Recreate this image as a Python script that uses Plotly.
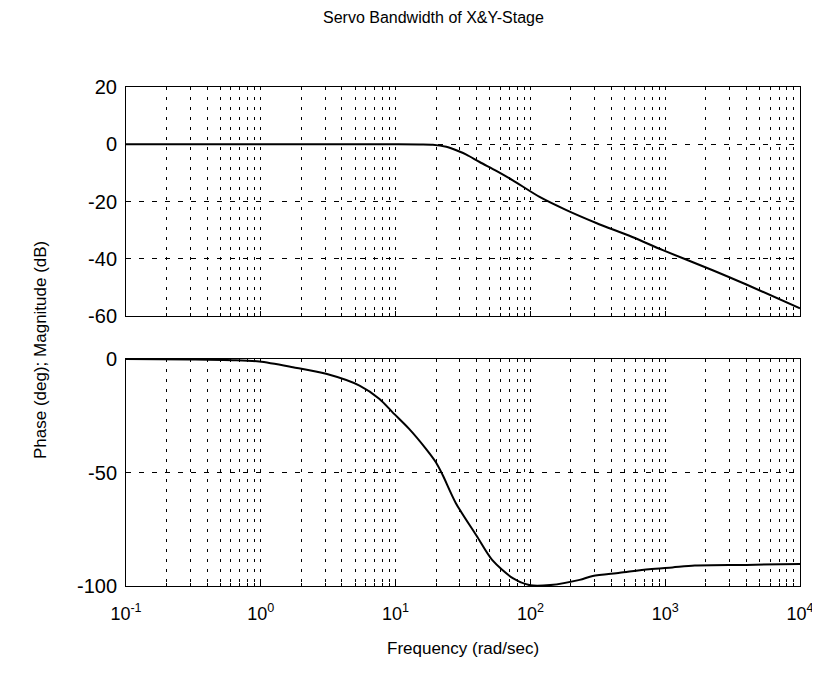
import plotly.graph_objects as go

# ---- data ----
mag_freq = [0.1, 1, 10, 15, 18.9, 23.8, 28.2, 33.5, 42, 55.9, 74, 117, 185, 308, 570, 960, 2250, 4000, 10000]
mag_db = [0, 0, 0, -0.05, -0.15, -0.9, -2.1, -3.6, -6.2, -9.3, -12.6, -18.4, -23, -27.5, -32.4, -37, -44, -49, -57.3]

ph_freq = [0.1, 0.3, 0.62, 0.975, 1.73, 3.05, 5.4, 7.6, 9.5, 12.6, 16.8, 19.9, 22.3, 28, 40, 52, 74, 100, 140,
           232, 290, 460, 760, 1130, 1660, 4000, 10000]
ph_deg = [0, -0.2, -0.5, -1.1, -3.6, -6.5, -11.7, -17.6, -23.5, -30.8, -39.6, -45.5, -51, -63.5, -78, -88.5, -96.5,
          -99.7, -99.6, -97.3, -95.6, -94.2, -92.6, -91.8, -91, -90.7, -90.3]

x_tickvals = [0.1, 1, 10, 100, 1000, 10000]
x_ticktext = ["10<sup>-1</sup>", "10<sup>0</sup>", "10<sup>1</sup>", "10<sup>2</sup>", "10<sup>3</sup>", "10<sup>4</sup>"]
mag_ticks = [-60, -40, -20, 0, 20]
mag_ticktext = ["-60", "-40", "-20", "0", "20"]
ph_ticks = [-100, -50, 0]
ph_ticktext = ["-100", "-50", "0"]

title_text = "Servo Bandwidth of X&Y-Stage"
xlabel_text = "Frequency (rad/sec)"
ylabel_text = "Phase (deg); Magnitude (dB)"

minor_vals = [m * 10 ** e for e in range(-1, 4) for m in range(2, 10)]

FONT = "Liberation Sans, Arial, sans-serif"

fig = go.Figure()
fig.add_trace(go.Scatter(x=mag_freq, y=mag_db, mode="lines",
                         line=dict(color="black", width=2, shape="spline", smoothing=0.8),
                         xaxis="x", yaxis="y", showlegend=False, hoverinfo="skip"))
fig.add_trace(go.Scatter(x=ph_freq, y=ph_deg, mode="lines",
                         line=dict(color="black", width=2, shape="spline", smoothing=0.8),
                         xaxis="x2", yaxis="y2", showlegend=False, hoverinfo="skip"))

# page body has an 8px offset, so figure pixel = reference pixel - 8
OFF = 8
W, HH = 820 - OFF, 675 - OFF
L, R, T, B = 126 - OFF, 800 - OFF, 87 - OFF, 586 - OFF
H = B - T
top_lo = (586 - 316) / H
bot_hi = (586 - 359) / H


def xax(show_labels, anchor):
    d = dict(type="log", range=[-1, 4], anchor=anchor, domain=[0, 1], automargin=False,
             tickmode="array", tickvals=x_tickvals,
             showticklabels=show_labels, ticks="inside", ticklen=5, tickcolor="black",
             showgrid=True, gridcolor="black", gridwidth=1, griddash="3px,7px",
             minor=dict(tickmode="array", tickvals=minor_vals, showgrid=True, gridcolor="black", gridwidth=1,
                        griddash="3px,7px", ticks="inside", ticklen=3, tickcolor="black"),
             showline=True, linecolor="black", linewidth=1, mirror=True, zeroline=False,
             tickfont=dict(family=FONT, size=18, color="black"), ticklabelstandoff=11)
    if show_labels:
        d["ticktext"] = x_ticktext
    return d


def yax(rng, ticks, ticktext, dom, anchor):
    return dict(range=rng, domain=dom, anchor=anchor, automargin=False, tickmode="array",
                tickvals=ticks, ticktext=ticktext,
                ticks="inside", ticklen=5, tickcolor="black",
                showgrid=True, gridcolor="black", gridwidth=1, griddash="5px,8px",
                showline=True, linecolor="black", linewidth=1, mirror=True, zeroline=False,
                tickfont=dict(family=FONT, size=20, color="black"), ticklabelstandoff=4)


fig.update_layout(
    width=W, height=HH,
    margin=dict(l=L, r=W - R, t=T, b=HH - B, autoexpand=False),
    paper_bgcolor="white", plot_bgcolor="white",
    xaxis=xax(False, "y"),
    yaxis=yax([-60, 20], mag_ticks, mag_ticktext, [top_lo, 1], "x"),
    xaxis2=xax(True, "y2"),
    yaxis2=yax([-100, 0], ph_ticks, ph_ticktext, [0, bot_hi], "x2"),
    font=dict(family=FONT, color="black"),
    annotations=[
        dict(text=title_text, xref="paper", yref="paper", x=(433 - 126) / (R - L), y=(586 - 18) / H,
             showarrow=False, xanchor="center", yanchor="middle",
             font=dict(family=FONT, size=16, color="black")),
        dict(text=xlabel_text, xref="paper", yref="paper", x=(463 - 126) / (R - L), y=(586 - 648) / H,
             showarrow=False, xanchor="center", yanchor="middle",
             font=dict(family=FONT, size=17, color="black")),
        dict(text=ylabel_text, xref="paper", yref="paper", x=(40 - 126) / (R - L), y=(586 - 350) / H,
             showarrow=False, xanchor="center", yanchor="middle", textangle=-90,
             font=dict(family=FONT, size=17, color="black")),
    ],
)

fig.write_html("out.html")
